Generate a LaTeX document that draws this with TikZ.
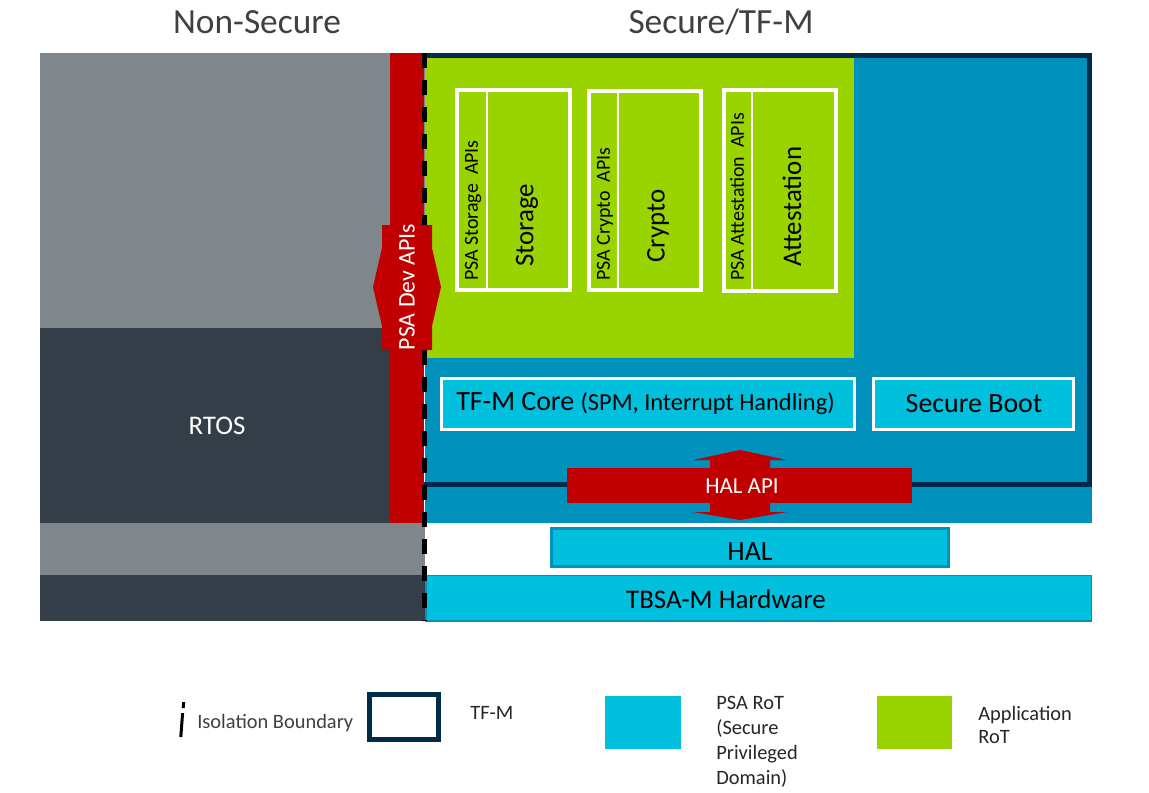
\documentclass[tikz,border=0pt]{standalone}
\usepackage{fontspec}
\setmainfont{Carlito}
\newcommand\pxf[1]{\fontsize{\fpeval{#1*0.5669}pt}{\fpeval{#1*0.5669*1.2}pt}\selectfont}
\newcommand\pxfl[2]{\fontsize{\fpeval{#1*0.5669}pt}{\fpeval{#2*0.5669}pt}\selectfont}
\definecolor{nsgray}{HTML}{7F878C}
\definecolor{nsdark}{HTML}{333E48}
\definecolor{sblue}{HTML}{0091BD}
\definecolor{navy}{HTML}{002B49}
\definecolor{appgreen}{HTML}{99D400}
\definecolor{psacyan}{HTML}{00C0DE}
\definecolor{psared}{HTML}{C00000}
\definecolor{titlegray}{HTML}{404040}
\tikzset{
  lbl/.style={inner sep=0pt, text=black},
  wlbl/.style={inner sep=0pt, text=white},
  appframe/.style={draw=white, line width=2.3pt},
  appdiv/.style={draw=white, line width=1.2pt},
  psabox/.style={draw=white, fill=psacyan, line width=1.7pt},
  isodash/.style={fill=black},
}
\begin{document}
\begin{tikzpicture}[x=0.02cm,y=-0.02cm]
\useasboundingbox (0,0) rectangle (1149,792);
\fill[white] (0,0) rectangle (1149,792);

% titles
\node[inner sep=0pt, text=titlegray, font=\pxf{35.5}] (tns) at (257,22) {Non-Secure};
\node[inner sep=0pt, text=titlegray, font=\pxf{35.5}] (tsec) at (721,22) {Secure/TF-M};

% non-secure side
\fill[nsgray] (40,53) rectangle (425,328);
\fill[nsdark] (40,328) rectangle (390,523);
\fill[nsgray] (40,523) rectangle (425,575);
\fill[nsdark] (40,575) rectangle (425,621);

% secure side
\fill[sblue] (425,53) rectangle (1092,523);
\draw[navy, line width=2.8pt] (424,55.5) -- (1089.5,55.5) -- (1089.5,484.5) -- (424,484.5);
\fill[appgreen] (425,58) rectangle (854,358);

% red bar
\fill[psared] (390,53) rectangle (424,523);

% HAL and hardware
\draw[sblue, fill=psacyan, line width=1.9pt] (551.5,528.5) rectangle (948.5,566.5);
\draw[sblue, fill=psacyan, line width=0.8pt] (426,575.5) rectangle (1091.5,621);

% isolation boundary (dashes)
\foreach \yy in {53,80,...,621}
  \fill[isodash] (421.8,\yy) rectangle (427,{min(\yy+15,621)});

% PSA dev API arrow
\fill[psared] (382,225) -- (432,225) -- (432,248) -- (441,287) -- (432,326) -- (432,350)
  -- (382,350) -- (382,326) -- (373,287) -- (382,248) -- cycle;
\node[wlbl, rotate=90, font=\pxf{24}] (devapi) at (407,287) {PSA Dev APIs};

% application RoT boxes
\draw[appframe] (457,90) rectangle (570,290);
\draw[appdiv] (487,90) -- (487,290);
\draw[appframe] (589,91) rectangle (701,290);
\draw[appdiv] (618,91) -- (618,290);
\draw[appframe] (724,90) rectangle (836,291);
\draw[appdiv] (752,90) -- (752,291);

\node[lbl, rotate=90, anchor=west, font=\pxf{20}] (stapi) at (473,281) {PSA Storage\ \ APIs};
\node[lbl, rotate=90, anchor=west, font=\pxf{27}] (storage) at (527,267) {Storage};
\node[lbl, rotate=90, anchor=west, font=\pxf{20}] (crapi) at (605,281) {PSA Crypto\ \ APIs};
\node[lbl, rotate=90, anchor=west, font=\pxf{27}] (crypto) at (658,263) {Crypto};
\node[lbl, rotate=90, anchor=west, font=\pxf{20}] (atapi) at (737,281) {PSA Attestation\ \ APIs};
\node[lbl, rotate=90, anchor=west, font=\pxf{27}] (attest) at (792,267) {Attestation};

% TF-M core and secure boot
\draw[psabox] (441.5,378.5) rectangle (854.5,429.5);
\draw[psabox] (873.5,378.5) rectangle (1073.5,429.5);
\node[lbl, anchor=west] (core) at (456,404) {\pxf{28}TF-M Core \pxf{24.5}(SPM, Interrupt Handling)};
\node[lbl, font=\pxf{28}] (sboot) at (974,404) {Secure Boot};

% HAL API
\fill[psared] (567,468) rectangle (912,503);
\fill[psared] (740,450) -- (787,460) -- (770,460) -- (770,512) -- (787,512) -- (740,520)
  -- (693,512) -- (710,512) -- (710,460) -- (693,460) -- cycle;
\node[wlbl, font=\pxf{23}] (halapi) at (742,486) {HAL API};

\node[lbl, font=\pxf{28}] (hal) at (750,552) {HAL};
\node[lbl, font=\pxf{27}] (hw) at (726,599) {TBSA-M Hardware};

% RTOS
\node[wlbl, font=\pxf{27}] (rtos) at (217,426) {RTOS};

% legend
\fill[black] (182.2,702) -- (185.2,702) -- (184.7,708) -- (181.7,708) -- cycle;
\fill[black] (181.1,713) -- (184.1,713) -- (182.3,737) -- (179.3,737) -- cycle;
\node[inner sep=0pt, anchor=west, text=titlegray, font=\pxf{20.5}] (liso) at (197,723) {Isolation Boundary};
\draw[navy, fill=white, line width=2.8pt] (369.5,694.5) rectangle (438.5,739.5);
\node[inner sep=0pt, anchor=west, text=black!85, font=\pxf{20.5}] (ltfm) at (470,713) {TF-M};
\fill[psacyan] (605,696) rectangle (681,749);
\node[inner sep=0pt, anchor=west, align=left, text=black!85, font=\pxfl{20.5}{25}] (lpsa) at (716,742) {PSA RoT\\(Secure\\Privileged\\Domain)};
\fill[appgreen] (877,696) rectangle (952,749);
\node[inner sep=0pt, anchor=west, align=left, text=black!85, font=\pxfl{20.5}{24}] (lapp) at (978,725) {Application\\RoT};
\end{tikzpicture}
\end{document}
